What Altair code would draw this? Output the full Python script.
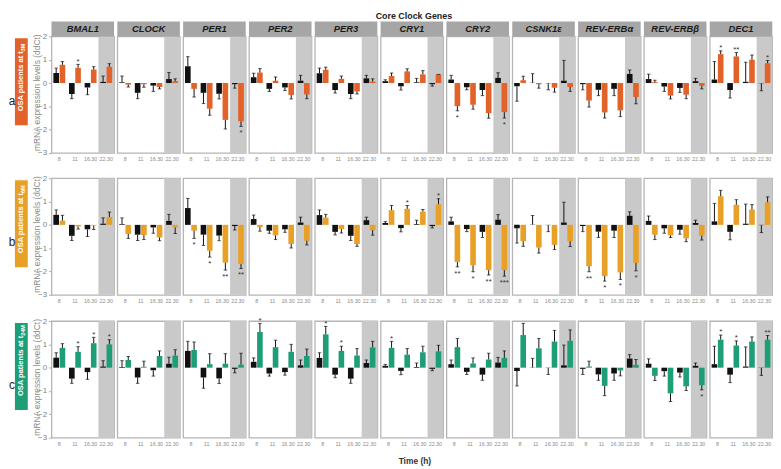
import altair as alt
import pandas as pd

FONT = "Liberation Sans"

genes = ["BMAL1", "CLOCK", "PER1", "PER2", "PER3", "CRY1", "CRY2",
         "CSNK1ε", "REV-ERBα", "REV-ERBβ", "DEC1"]
times = ["8", "11", "16.30", "22.30"]

# baseline (black) bars: value and end of error bar
black_val = {
    "BMAL1": [0.43, -0.47, -0.19, 0.05],
    "CLOCK": [0.03, -0.42, -0.11, 0.17],
    "PER1": [0.72, -0.42, -0.46, -0.05],
    "PER2": [0.25, -0.25, -0.19, 0.10],
    "PER3": [0.42, -0.30, -0.47, 0.20],
    "CRY1": [0.08, -0.14, 0.03, -0.05],
    "CRY2": [0.15, -0.18, -0.30, 0.22],
    "CSNK1ε": [-0.14, 0.01, -0.01, 0.10],
    "REV-ERBα": [-0.05, -0.29, -0.25, 0.39],
    "REV-ERBβ": [0.17, -0.15, -0.21, 0.08],
    "DEC1": [0.15, -0.30, 0.05, -0.01],
}
black_end = {
    "BMAL1": [0.64, -0.67, -0.50, 0.30],
    "CLOCK": [0.30, -0.67, -0.36, 0.45],
    "PER1": [1.13, -0.88, -0.68, -0.22],
    "PER2": [0.42, -0.36, -0.32, 0.33],
    "PER3": [0.64, -0.43, -0.67, 0.33],
    "CRY1": [0.14, -0.30, 0.20, -0.13],
    "CRY2": [0.33, -0.29, -0.54, 0.44],
    "CSNK1ε": [-0.78, 0.40, -0.29, 0.97],
    "REV-ERBα": [-0.29, -0.54, -0.54, 0.56],
    "REV-ERBβ": [0.38, -0.36, -0.40, 0.20],
    "DEC1": [0.92, -0.64, 0.89, -0.33],
}

rows = ["a", "b", "c"]
row_sub = {"a": "3M", "b": "6M", "c": "24M"}
row_color = {"a": "#E2622A", "b": "#E8A126", "c": "#1E9E77"}

osa_val = {
    "a": {
        "BMAL1": [0.78, 0.65, 0.58, 0.70],
        "CLOCK": [-0.07, -0.05, -0.17, 0.08],
        "PER1": [-0.25, -1.10, -1.58, -1.64],
        "PER2": [0.45, 0.10, -0.51, -0.49],
        "PER3": [0.57, 0.18, -0.36, 0.06],
        "CRY1": [0.30, 0.50, 0.37, 0.37],
        "CRY2": [-0.99, -0.93, -1.29, -1.25],
        "CSNK1ε": [0.12, -0.05, -0.20, -0.17],
        "REV-ERBα": [-0.75, -1.26, -1.17, -0.60],
        "REV-ERBβ": [0.04, -0.54, -0.50, -0.12],
        "DEC1": [1.24, 1.14, 1.00, 0.85],
    },
    "b": {
        "BMAL1": [0.18, -0.07, -0.03, 0.34],
        "CLOCK": [-0.39, -0.44, -0.54, -0.11],
        "PER1": [-0.25, -1.11, -1.62, -1.68],
        "PER2": [-0.10, -0.45, -0.82, -0.68],
        "PER3": [0.31, -0.18, -0.82, -0.23],
        "CRY1": [0.63, 0.69, 0.57, 0.88],
        "CRY2": [-1.59, -1.73, -1.94, -1.94],
        "CSNK1ε": [-0.70, -0.97, -0.86, -0.70],
        "REV-ERBα": [-1.77, -2.20, -2.04, -1.63],
        "REV-ERBβ": [-0.42, -0.45, -0.58, -0.46],
        "DEC1": [1.23, 0.86, 0.66, 0.97],
    },
    "c": {
        "BMAL1": [0.85, 0.68, 1.05, 1.00],
        "CLOCK": [0.33, 0.04, 0.50, 0.52],
        "PER1": [0.76, 0.15, 0.17, 0.13],
        "PER2": [1.53, 0.88, 0.68, 0.50],
        "PER3": [1.43, 0.72, 0.52, 0.87],
        "CRY1": [0.85, 0.56, 0.66, 0.70],
        "CRY2": [0.88, 0.18, 0.35, 0.42],
        "CSNK1ε": [1.40, 0.83, 1.12, 1.15],
        "REV-ERBα": [0.05, -0.78, -0.12, 0.12],
        "REV-ERBβ": [-0.35, -1.10, -0.80, -0.75],
        "DEC1": [1.20, 0.95, 1.12, 1.20],
    },
}
osa_end = {
    "a": {
        "BMAL1": [0.92, 0.80, 0.70, 0.83],
        "CLOCK": [-0.17, -0.18, -0.25, 0.18],
        "PER1": [-0.60, -1.38, -1.97, -1.86],
        "PER2": [0.62, 0.26, -0.68, -0.67],
        "PER3": [0.68, 0.30, -0.47, 0.18],
        "CRY1": [0.43, 0.61, 0.53, 0.37],
        "CRY2": [-1.19, -1.12, -1.51, -1.50],
        "CSNK1ε": [0.29, -0.22, -0.39, -0.36],
        "REV-ERBα": [-1.03, -1.50, -1.44, -0.89],
        "REV-ERBβ": [0.12, -0.68, -0.67, -0.25],
        "DEC1": [1.38, 1.31, 1.20, 0.97],
    },
    "b": {
        "BMAL1": [0.41, -0.18, -0.20, 0.55],
        "CLOCK": [-0.58, -0.63, -0.68, -0.37],
        "PER1": [-0.58, -1.38, -1.94, -1.87],
        "PER2": [-0.27, -0.63, -0.99, -0.86],
        "PER3": [0.45, -0.35, -0.92, -0.44],
        "CRY1": [0.83, 0.83, 0.66, 1.12],
        "CRY2": [-1.80, -2.01, -2.15, -2.20],
        "CSNK1ε": [-0.92, -1.21, -1.06, -0.93],
        "REV-ERBα": [-2.01, -2.41, -2.34, -1.97],
        "REV-ERBβ": [-0.63, -0.54, -0.72, -0.65],
        "DEC1": [1.48, 1.08, 0.87, 1.20],
    },
    "c": {
        "BMAL1": [1.03, 0.90, 1.30, 1.20],
        "CLOCK": [0.48, 0.28, 0.72, 0.77],
        "PER1": [1.10, 0.60, 0.60, 0.62],
        "PER2": [1.90, 1.18, 1.00, 0.80],
        "PER3": [1.77, 0.92, 0.82, 1.13],
        "CRY1": [1.13, 0.82, 0.92, 0.96],
        "CRY2": [1.25, 0.42, 0.62, 0.72],
        "CSNK1ε": [1.90, 1.25, 1.60, 1.62],
        "REV-ERBα": [0.28, -1.20, -0.35, 0.35],
        "REV-ERBβ": [-0.55, -1.45, -0.98, -0.95],
        "DEC1": [1.40, 1.15, 1.32, 1.38],
    },
}
osa_star = {
    "a": {"BMAL1": ["", "*", "", ""], "PER1": ["", "", "", "*"],
          "CRY2": ["*", "", "", "*"], "DEC1": ["*", "**", "", "*"]},
    "b": {"PER1": ["*", "*", "**", "**"], "CRY1": ["", "*", "", "*"],
          "CRY2": ["**", "*", "**", "***"], "REV-ERBα": ["**", "*", "*", "*"]},
    "c": {"BMAL1": ["", "*", "*", "*"], "PER2": ["*", "", "", ""],
          "PER3": ["*", "*", "", ""], "CRY1": ["*", "", "", ""],
          "REV-ERBβ": ["", "", "", "*"], "DEC1": ["*", "*", "", "**"]},
}

W = 63.3
H = 118
BLACK = "#111111"

xscale = alt.Scale(domain=times, paddingInner=0, paddingOuter=0)
yscale = alt.Scale(domain=[-3, 2], nice=False, zero=False)
off_scale = alt.Scale(domain=["ctrl", "osa"], paddingInner=0.1, paddingOuter=0.3)


def make_df(r, g):
    recs = []
    stars = osa_star[r].get(g, ["", "", "", ""])
    for i, t in enumerate(times):
        for grp, v, e, s, col in [
            ("ctrl", black_val[g][i], black_end[g][i], "", BLACK),
            ("osa", osa_val[r][g][i], osa_end[r][g][i], stars[i], row_color[r]),
        ]:
            up = e >= v if abs(e - v) > 1e-9 else v >= 0
            recs.append(dict(time=t, grp=grp, val=v, end=e, star=s, col=col,
                             star_y=e + 0.12 if up else e - 0.30))
    return pd.DataFrame(recs)


def panel(r, gi, g):
    df = make_df(r, g)
    first = gi == 0
    xax = alt.Axis(title=None, labelAngle=0, labelFontSize=5.4, labelColor="#8c8c8c",
                   ticks=False, domain=False, labelPadding=4, labelFont=FONT)
    if first:
        yax = alt.Axis(title=None, values=[2, 1, 0, -1, -2, -3], labelFontSize=8,
                       labelColor="#808080", tickColor="#b0b0b0", tickSize=3,
                       domain=False, grid=False, labelPadding=2, format="d",
                       labelFont=FONT)
    else:
        yax = None

    def X():
        return alt.X("time:N", scale=xscale, axis=xax, sort=times)

    def XO():
        return alt.XOffset("grp:N", scale=off_scale, sort=["ctrl", "osa"])

    def Y(f):
        return alt.Y(f, scale=yscale, axis=yax)

    shade = alt.Chart(pd.DataFrame({"time": ["22.30"]})).mark_rect(color="#c9c9c9").encode(
        x=X(), y=alt.value(0), y2=alt.value(H))
    bars = alt.Chart(df).mark_bar().encode(
        x=X(), xOffset=XO(), y=Y("val:Q"), color=alt.Color("col:N", scale=None))
    err = alt.Chart(df).mark_rule(color=BLACK, strokeWidth=1).encode(
        x=X(), xOffset=XO(), y=Y("val:Q"), y2="end:Q")
    cap = alt.Chart(df).mark_tick(color=BLACK, thickness=1, size=3.5).encode(
        x=X(), xOffset=XO(), y=Y("end:Q"))
    sdf = df[df["star"] != ""]
    layers = [shade, bars, err, cap]
    if len(sdf):
        layers.append(alt.Chart(sdf).mark_text(fontSize=8, color="#333333", baseline="middle",
                                               font=FONT).encode(
            x=X(), xOffset=XO(), y=Y("star_y:Q"), text="star:N"))

    one = pd.DataFrame({"g": [g], "main": ["OSA patients at t"], "sub": [row_sub[r]],
                        "letter": [r], "ytitle": ["mRNA expression levels (ddCt)"],
                        "title": ["Core Clock Genes"], "xtitle": ["Time (h)"]})
    if r == "a":
        layers.append(alt.Chart(one).mark_rect(color="#a6a6a6").encode(
            x=alt.value(0), x2=alt.value(W), y=alt.value(-15), y2=alt.value(0)))
        layers.append(alt.Chart(one).mark_text(fontSize=9.5, fontWeight="bold", fontStyle="italic",
                                               color="#1a1a1a", font=FONT, baseline="middle").encode(
            x=alt.value(W / 2), y=alt.value(-7.3), text="g:N"))
        if g == "CRY1":
            layers.append(alt.Chart(one).mark_text(fontSize=9, fontWeight="bold", color="#222222",
                                                   font=FONT, baseline="top").encode(
                x=alt.value(W / 2 + 2), y=alt.value(-25), text="title:N"))
    if r == "c" and g == "CRY1":
        layers.append(alt.Chart(one).mark_text(fontSize=8.5, fontWeight="bold", color="#333333",
                                               font=FONT, baseline="top").encode(
            x=alt.value(W / 2 + 3), y=alt.value(H + 20), text="xtitle:N"))
    if first:
        layers.append(alt.Chart(one).mark_rect(color=row_color[r]).encode(
            x=alt.value(-37), x2=alt.value(-24), y=alt.value(2), y2=alt.value(90)))
        layers.append(alt.Chart(one).mark_text(fontSize=7.6, fontWeight="bold", color="white",
                                               font=FONT, angle=270, align="right",
                                               baseline="middle").encode(
            x=alt.value(-30.5), y=alt.value(15), text="main:N"))
        layers.append(alt.Chart(one).mark_text(fontSize=5.5, fontWeight="bold", color="white",
                                               font=FONT, angle=270, align="left",
                                               baseline="middle", dy=2.2).encode(
            x=alt.value(-30.5), y=alt.value(15), text="sub:N"))
        layers.append(alt.Chart(one).mark_text(fontSize=8.5, color="#8a8a8a", font=FONT,
                                               angle=270, baseline="middle").encode(
            x=alt.value(-15), y=alt.value(H / 2 - 2), text="ytitle:N"))
        layers.append(alt.Chart(one).mark_text(fontSize=12, color="#222222", font=FONT,
                                               baseline="middle").encode(
            x=alt.value(-40), y=alt.value(65), text="letter:N"))

    return alt.layer(*layers).properties(width=W, height=H)


row_charts = []
for r in rows:
    row_charts.append(alt.hconcat(*[panel(r, gi, g) for gi, g in enumerate(genes)],
                                  spacing=2.6, bounds="flush"))

chart = alt.vconcat(*row_charts, spacing=9.5).properties(
    padding=0
).configure_view(stroke="#b5b5b5", strokeWidth=1.3).configure_axis(labelFont=FONT)

chart.save("out.html", embed_options={"renderer": "svg", "actions": False})
